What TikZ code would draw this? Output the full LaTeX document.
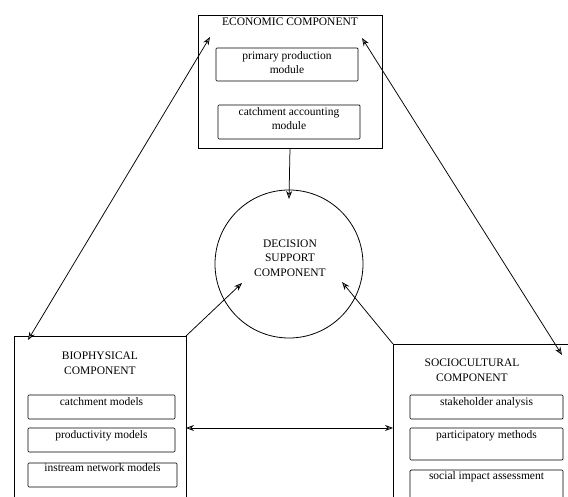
\documentclass[tikz,border=0pt]{standalone}
\usepackage{fontspec}
\setmainfont{Liberation Serif}
\usetikzlibrary{arrows.meta,calc}
\begin{document}
\begin{tikzpicture}[x=1pt,y=-1pt,
  every node/.style={font=\fontsize{11.5}{14.5}\selectfont},
  outer/.style={draw, line width=0.8pt, inner sep=0pt, outer sep=0pt, anchor=north west},
  inner/.style={draw, line width=0.7pt, rounded corners=1pt, inner sep=0pt, outer sep=0pt, anchor=north west},
  lbl/.style={align=center, inner sep=1pt},
  conn/.style={line width=0.75pt, -{Stealth[length=8pt,width=6pt,fill=gray!60]}},
  dconn/.style={line width=0.75pt, {Stealth[length=8pt,width=6pt,fill=gray!60]}-{Stealth[length=8pt,width=6pt,fill=gray!60]}}
]
\clip (0,0) rectangle (568,497);
\fill[white] (0,0) rectangle (568,497);
% economic component
\node[outer, minimum width=184pt, minimum height=133pt] (eco) at (198,15) {};
\node[lbl] (ecot) at (290,22) {ECONOMIC COMPONENT};
\node[inner, minimum width=142pt, minimum height=33pt] (prim) at (216,48) {};
\node[lbl, anchor=north] (primt) at ($(prim.north)+(0,2)$) {primary production\\module};
\node[inner, minimum width=142pt, minimum height=34pt] (catacc) at (218,105) {};
\node[lbl, anchor=north] (catacct) at ($(catacc.north)+(0,1)$) {catchment accounting\\module};
% decision support
\node[draw, circle, line width=0.8pt, minimum size=148pt, inner sep=0pt, outer sep=0pt] (dss) at (289,264) {};
\node[lbl] (dsst) at (290,258) {DECISION\\SUPPORT\\COMPONENT};
% biophysical
\node[outer, minimum width=172pt, minimum height=170pt] (bio) at (14,336) {};
\node[lbl] (biot) at (100,363) {BIOPHYSICAL\\COMPONENT};
\node[inner, minimum width=147pt, minimum height=24pt] (catm) at (28,395) {};
\node[lbl, anchor=north] (catmt) at ($(catm.north)+(0,1)$) {catchment models};
\node[inner, minimum width=147pt, minimum height=24pt] (prod) at (28,428) {};
\node[lbl, anchor=north] (prodt) at ($(prod.north)+(0,1)$) {productivity models};
\node[inner, minimum width=149pt, minimum height=24pt] (inst) at (28,463) {};
\node[lbl, anchor=north] (instt) at ($(inst.north)+(0,-1)$) {instream network models};
% sociocultural
\node[outer, minimum width=190pt, minimum height=165pt] (soc) at (393,344) {};
\node[lbl] (soct) at (472,370) {SOCIOCULTURAL\\COMPONENT};
\node[inner, minimum width=153pt, minimum height=24pt] (stake) at (410,395) {};
\node[lbl, anchor=north] (staket) at ($(stake.north)+(0,1)$) {stakeholder analysis};
\node[inner, minimum width=153pt, minimum height=32pt] (part) at (410,428) {};
\node[lbl, anchor=north] (partt) at ($(part.north)+(0,1)$) {participatory methods};
\node[inner, minimum width=153pt, minimum height=30pt] (sia) at (410,470) {};
\node[lbl, anchor=north] (siat) at ($(sia.north)+(0,0)$) {social impact assessment};
% connectors
\draw[dconn] ($(eco.north west)+(12,22)$) -- ($(bio.north west)+(14,4)$);
\draw[dconn] ($(eco.north east)+(-20,23)$) -- ($(soc.north west)+(169,11)$);
\draw[conn] (eco.south) -- ($(dss.north)+(0,9)$);
\draw[conn] (bio.north east) -- ($(dss.center)+(-47,19)$);
\draw[conn] (soc.north west) -- ($(dss.center)+(53,18)$);
\draw[dconn] ($(bio.north east)+(0,92)$) -- ($(soc.north west)+(0,84)$);
\end{tikzpicture}
\end{document}
